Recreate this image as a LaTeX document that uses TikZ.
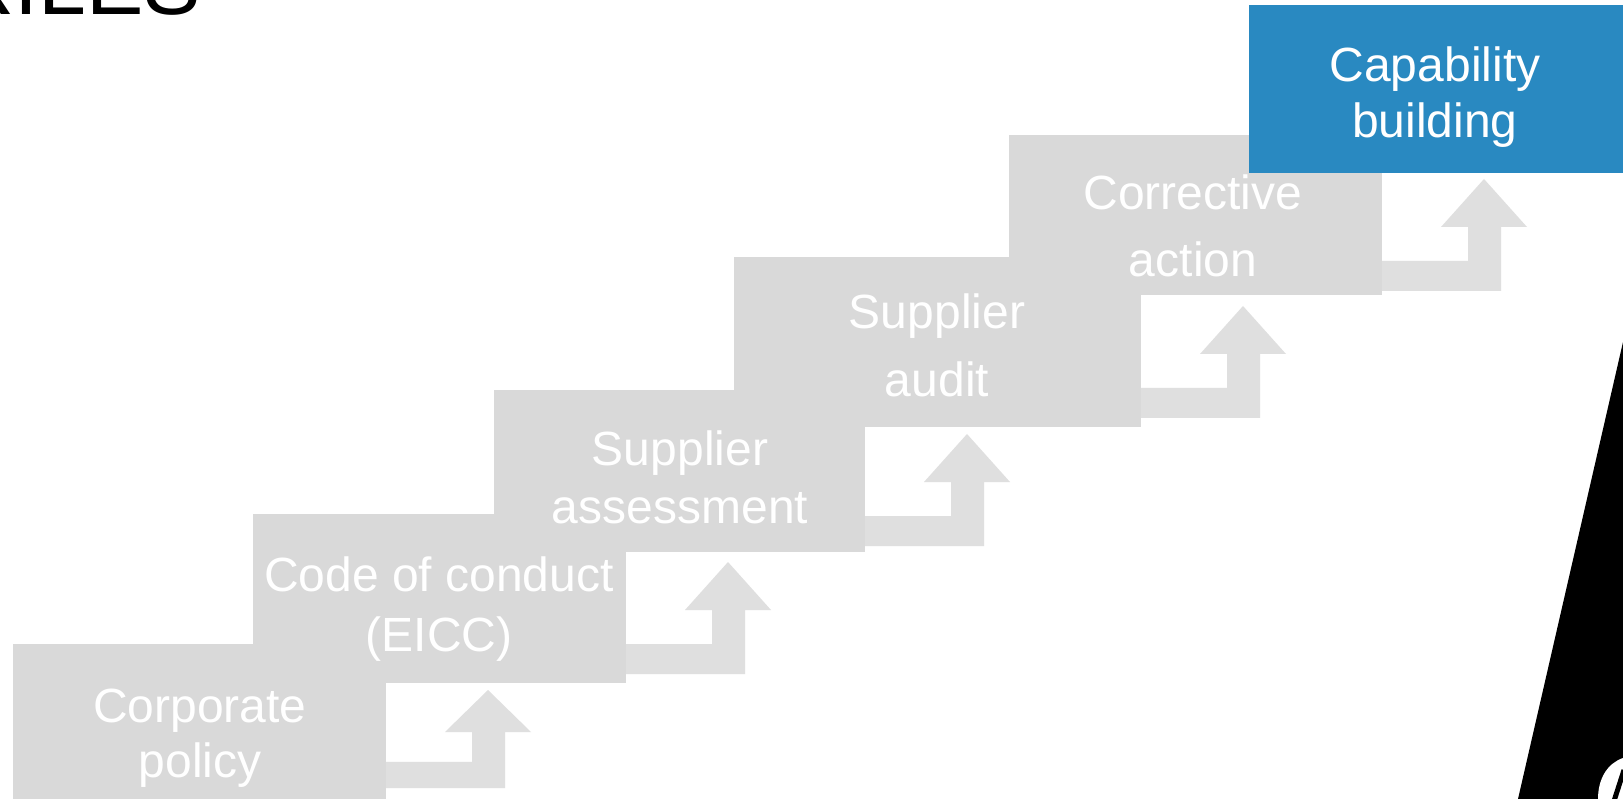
\documentclass[tikz,border=0pt]{standalone}
\usepackage{fontspec}
\setmainfont{Liberation Sans}
\definecolor{boxgrey}{HTML}{D9D9D9}
\definecolor{arrowgrey}{HTML}{DFDFDF}
\definecolor{capblue}{HTML}{2989C1}
\newcommand\stairarrow[3]{%
  \begin{scope}[shift={(#1.south east)}]
    \fill[arrowgrey] (0,#2) -- (119,#2) -- (119,#2-64*#3) -- (145,#2-64*#3)
      -- (102,#2-112*#3) -- (59,#2-64*#3) -- (86,#2-64*#3) -- (86,#2-30*#3)
      -- (0,#2-30*#3) -- cycle;
  \end{scope}}
\begin{document}
\begin{tikzpicture}[x=1pt,y=-1pt,
  stepbox/.style={fill=boxgrey, draw=none, inner sep=0pt, outer sep=0pt, anchor=north west},
  steptext/.style={text=white, anchor=base, inner sep=0pt, font=\fontsize{48}{56}\selectfont}]
\useasboundingbox (0,0) rectangle (1623,799);
\clip (0,0) rectangle (1623,799);
\fill[white] (0,0) rectangle (1623,799);
% title fragment
\node[anchor=base west, inner sep=0pt, font=\fontsize{86}{90}\selectfont] (title) at (-48,15) {RILES};
% boxes
\node[stepbox, minimum width=373pt, minimum height=155pt] (b1) at (13,644) {};
\node[stepbox, minimum width=373pt, minimum height=169pt] (b2) at (253,514) {};
\node[stepbox, minimum width=371pt, minimum height=162pt] (b3) at (494,390) {};
\node[stepbox, minimum width=407pt, minimum height=170pt] (b4) at (734,257) {};
\node[stepbox, minimum width=373pt, minimum height=160pt] (b5) at (1009,135) {};
\node[stepbox, fill=capblue, minimum width=374pt, minimum height=168pt] (b6) at (1249,5) {};
% arrows
\stairarrow{b1}{-11}{0.875}
\stairarrow{b2}{-9}{1}
\stairarrow{b3}{-6}{1}
\stairarrow{b4}{-9}{1}
\stairarrow{b5}{-4}{1}
% texts
\node[steptext] (t1a) at (200,722) {Corporate};
\node[steptext] (t1b) at (200,777) {policy};
\node[steptext] (t2a) at (439,591) {Code of conduct};
\node[steptext] (t2b) at (439,651) {(EICC)};
\node[steptext] (t3a) at (680,465) {Supplier};
\node[steptext] (t3b) at (680,523) {assessment};
\node[steptext] (t4a) at (937,329) {Supplier};
\node[steptext] (t4b) at (937,397) {audit};
\node[steptext] (t5a) at (1193,210) {Corrective};
\node[steptext] (t5b) at (1193,277) {action};
\node[steptext] (t6a) at (1435,82) {Capability};
\node[steptext] (t6b) at (1435,138) {building};
% black wedge at right
\fill[black] (1623,342) -- (1518,799) -- (1623,799) -- cycle;
\fill[white] (1598,799) .. controls (1598,778) and (1608,763) .. (1623,758) -- (1623,799) -- cycle;
\draw[black, line width=5pt] (1614,801) -- (1624,770);
\end{tikzpicture}
\end{document}
